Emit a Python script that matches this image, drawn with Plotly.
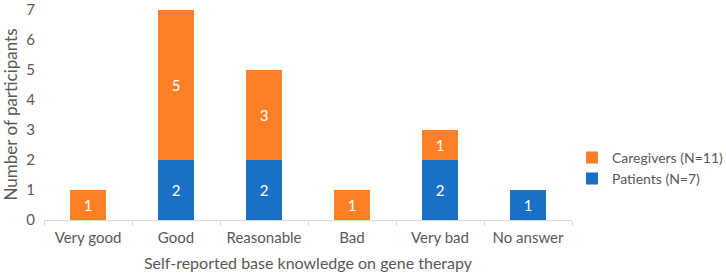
import plotly.graph_objects as go

categories = ["Very good", "Good", "Reasonable", "Bad", "Very bad", "No answer"]
patients = [0, 2, 2, 0, 2, 1]
caregivers = [1, 5, 3, 1, 1, 0]
patients_name = "Patients (N=7)"
caregivers_name = "Caregivers (N=11)"
y_ticks = [0, 1, 2, 3, 4, 5, 6, 7]

blue = "#1A6FC6"
orange = "#FF7F27"
gray = "#595959"
font_family = "Lato, Open Sans, sans-serif"

def vals(v):
    return [x if x else None for x in v]

def txt(v):
    return [str(x) if x else "" for x in v]

fig = go.Figure()
fig.add_trace(go.Bar(
    x=categories, y=vals(patients), name=patients_name, legendgroup="p",
    marker=dict(color=blue, line=dict(width=0)),
    text=txt(patients), textposition="inside", insidetextanchor="middle",
    textfont=dict(color="white", size=15, family=font_family),
    hoverinfo="x+y+name",
))
fig.add_trace(go.Bar(
    x=categories, y=vals(caregivers), name=caregivers_name, legendgroup="c",
    marker=dict(color=orange, line=dict(width=0)),
    text=txt(caregivers), textposition="inside", insidetextanchor="middle",
    textfont=dict(color="white", size=15, family=font_family),
    hoverinfo="x+y+name",
))

fig.update_layout(
    barmode="stack",
    bargap=0.6,
    width=726, height=275,
    margin=dict(l=44, r=154, t=9, b=55, autoexpand=False),
    paper_bgcolor="white", plot_bgcolor="white",
    font=dict(family=font_family, size=15, color=gray),
    uniformtext=dict(minsize=10, mode="show"),
    legend=dict(
        traceorder="reversed", x=1.0, y=0.245, xanchor="left", yanchor="middle",
        font=dict(size=14, color=gray), itemwidth=30, tracegroupgap=5,
        bgcolor="rgba(0,0,0,0)",
    ),
    xaxis=dict(
        title=dict(text="Self-reported base knowledge on gene therapy", standoff=12,
                   font=dict(size=16, color=gray)),
        showline=True, linecolor="#D9D9D9", linewidth=1,
        ticks="outside", tickson="boundaries", ticklen=5, tickcolor="#D9D9D9",
        tickfont=dict(size=15, color=gray), ticklabelstandoff=4,
        showgrid=False, automargin=False,
    ),
    yaxis=dict(
        title=dict(text="Number of participants", standoff=4,
                   font=dict(size=17, color=gray)),
        range=[0, 7.02], tickmode="array", tickvals=y_ticks,
        showgrid=False, showline=False, zeroline=False,
        tickfont=dict(size=15, color=gray), ticks="", ticklabelstandoff=8,
        ticklabeloverflow="allow", automargin=False,
    ),
)

fig.write_html("out.html", config={"displayModeBar": False},
               post_script="document.body.style.margin='0';")
